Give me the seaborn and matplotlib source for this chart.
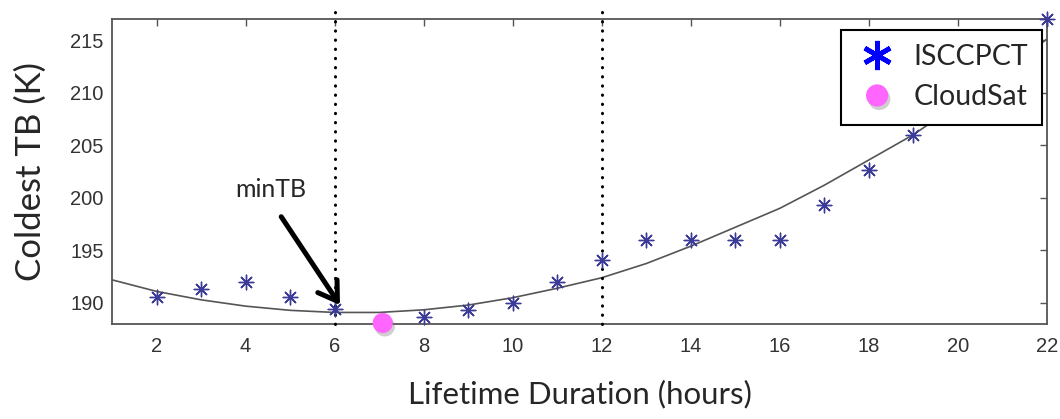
import numpy as np
import pandas as pd
import seaborn as sns
import matplotlib
matplotlib.use("Agg")
import matplotlib.pyplot as plt
from matplotlib.lines import Line2D
import matplotlib.patheffects as pe

# ISCCP convective-tower coldest brightness temperature by lifetime duration
isccp_hours = [2, 3, 4, 5, 6, 8, 9, 10, 11, 12, 13, 14, 15, 16, 17, 18, 19, 22]
isccp_tb = [190.6, 191.3, 192.0, 190.6, 189.4, 188.7, 189.3, 190.0, 192.0, 194.1,
            196.0, 196.0, 196.0, 196.0, 199.3, 202.6, 206.0, 217.0]

# fitted curve, evaluated at each hour
fit_hours = [1, 2, 3, 4, 5, 6, 7, 8, 9, 10, 11, 12, 13, 14, 15, 16, 17, 18, 19, 20, 21, 22]
fit_tb = [192.2, 191.1, 190.3, 189.7, 189.3, 189.1, 189.1, 189.35, 189.8, 190.5,
          191.4, 192.4, 193.75, 195.4, 197.2, 199.0, 201.2, 203.6, 206.0, 208.9,
          211.9, 215.1]

# CloudSat estimate
cloudsat_hours = [7.08]
cloudsat_tb = [188.1]

# lifetime window marked by dotted lines
window_hours = [6, 12]

x_ticks = [2, 4, 6, 8, 10, 12, 14, 16, 18, 20, 22]
y_ticks = [190, 195, 200, 205, 210, 215]

isccp = pd.DataFrame({"hours": isccp_hours, "tb": isccp_tb})
fit = pd.DataFrame({"hours": fit_hours, "tb": fit_tb})
cloudsat = pd.DataFrame({"hours": cloudsat_hours, "tb": cloudsat_tb})

sns.set_style("white")
label_font = ["Lato", "DejaVu Sans"]
tick_font = ["Liberation Sans", "DejaVu Sans"]

fig = plt.figure(figsize=(10.6, 4.19), dpi=100)
ax = fig.add_axes([0.1057, 0.2267, 0.882, 0.728])

star_color = "#3c3c98"
shadow = [pe.SimplePatchShadow(offset=(1.5, -2.5), shadow_rgbFace="#777777", alpha=0.35),
          pe.Normal()]

sns.lineplot(data=fit, x="hours", y="tb", ax=ax, color="#555555", lw=1.2,
             zorder=2, legend=False)

sns.scatterplot(data=isccp, x="hours", y="tb", ax=ax, marker=(8, 2, 0), s=110,
                color=star_color, edgecolor=star_color, linewidth=1.0,
                clip_on=False, zorder=4, legend=False)

sns.scatterplot(data=cloudsat, x="hours", y="tb", ax=ax, marker="o", s=210,
                color="#ff66ff", edgecolor="none", clip_on=False, zorder=6,
                legend=False)
ax.collections[-1].set_path_effects(shadow)

ax.set_xlim(1, 22)
ax.set_ylim(188, 217)

for h in window_hours:
    ax.axvline(h, ymin=0, ymax=1.03, clip_on=False, color="black", lw=2.2,
               linestyle=(0, (0.1, 2.9)), dash_capstyle="round", zorder=3)

ax.text(4.57, 200.1, "minTB", ha="center", va="baseline", fontsize=18,
        family=label_font, zorder=7)
ax.annotate("", xy=(6.12, 189.8), xytext=(4.80, 198.2),
            arrowprops=dict(arrowstyle="->, head_length=0.5, head_width=0.32",
                            color="black", lw=3.6, mutation_scale=26,
                            shrinkA=0, shrinkB=0),
            zorder=7)

ax.set_xticks(x_ticks)
ax.set_yticks(y_ticks)
ax.tick_params(direction="in", length=5, width=1.0, color="#555555",
               top=True, right=True, labelsize=14.5, labelcolor="#333333")
ax.tick_params(axis="x", pad=9)
ax.tick_params(axis="y", pad=6)
for lab in ax.get_xticklabels() + ax.get_yticklabels():
    lab.set_family(tick_font)
for sp in ax.spines.values():
    sp.set_color("#555555")
    sp.set_linewidth(1.3)

ax.set_xlabel("Lifetime Duration (hours)", fontsize=22.5, family=label_font,
              va="baseline")
ax.xaxis.set_label_coords(0.5, -0.262)
ax.set_ylabel("Coldest TB (K)", fontsize=25, family=label_font, va="center")
ax.yaxis.set_label_coords(-0.0866, 0.5)

handles = [
    Line2D([], [], ls="none", marker=(6, 2, 0), markersize=21, mew=3.4,
           color="#0000ff", label="ISCCPCT"),
    Line2D([], [], ls="none", marker="o", markersize=16, mfc="#ff66ff",
           mec="none", label="CloudSat", path_effects=shadow),
]
leg = ax.legend(handles=handles, loc="upper right", bbox_to_anchor=(0.995, 0.964),
                frameon=True, fancybox=False, framealpha=1, edgecolor="black",
                prop=dict(family=label_font, size=20.5), handletextpad=0.5,
                borderpad=0.5, labelspacing=0.5, handlelength=1.55,
                borderaxespad=0)
leg.get_frame().set_linewidth(1.5)
leg.set_zorder(10)

fig.savefig("out.png", dpi=100, facecolor="white")
